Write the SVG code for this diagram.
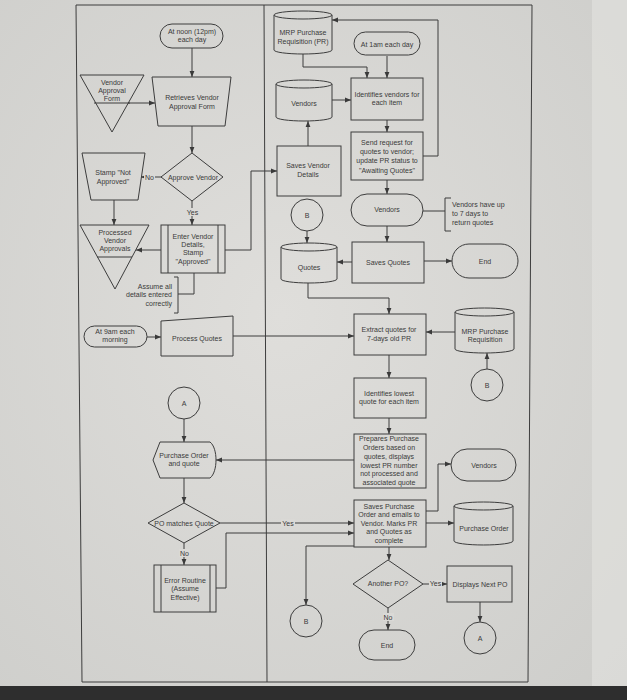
<svg xmlns="http://www.w3.org/2000/svg" width="627" height="700" viewBox="0 0 627 700">
<defs>
<radialGradient id="bg" cx="0.45" cy="0.45" r="0.8">
<stop offset="0" stop-color="#dfdedb"/>
<stop offset="1" stop-color="#cdcdca"/>
</radialGradient>
<marker id="ah" viewBox="0 0 10 10" refX="10" refY="5" markerWidth="6" markerHeight="6" markerUnits="userSpaceOnUse" orient="auto"><path d="M0,1 L10,5 L0,9 z" fill="#3a3a3a"/></marker>
</defs>
<style>
.n{fill:none;stroke:#3d3d3d;stroke-width:1}
.c{fill:none;stroke:#3d3d3d;stroke-width:1;marker-end:url(#ah)}
.l{fill:none;stroke:#3d3d3d;stroke-width:1}
.bk{fill:#dad9d6;stroke:none}
text{font-family:"Liberation Sans",Arial,sans-serif;font-size:7px;fill:#3a3a3a;text-anchor:middle}
.r{text-anchor:end}
.s{text-anchor:start}
</style>
<rect x="0" y="0" width="627" height="700" fill="url(#bg)"/>
<rect x="592" y="0" width="35" height="686" fill="#e2e2e0" opacity="0.6"/>
<rect x="0" y="686" width="627" height="14" fill="#2e2e2e"/>
<g id="frame">
<polygon points="76,5 532,5 528,682 82,682" class="n" stroke-width="1.2"/>
<line x1="264" y1="5" x2="267" y2="682" class="l" stroke-width="1.2"/>
</g>
<g id="connectors">
<path class="c" d="M192,48 V77"/>
<path class="c" d="M128,103 H155"/>
<path class="c" d="M192,126 V153"/>
<path class="c" d="M162,177 H141"/>
<path class="c" d="M114,200 V225"/>
<path class="c" d="M192,201 V225"/>
<path class="c" d="M161,250 H136"/>
<path class="c" d="M225,250 H251 V171 H277"/>
<path class="l" d="M194,273 V294 H178"/>
<path class="l" d="M174,277 H178 V313 H174"/>
<path class="c" d="M147,337 H161"/>
<path class="c" d="M233,336 H354"/>
<path class="c" d="M184,419 V442"/>
<path class="c" d="M354,460 H216"/>
<path class="c" d="M184,478 V503"/>
<path class="c" d="M220,523 H354"/>
<path class="c" d="M184,543 V565"/>
<path class="c" d="M216,588 H226 V533 H354"/>
<path class="c" d="M303,54 V67 H367 V78"/>
<path class="c" d="M387,56 V78"/>
<path class="c" d="M332,100 H351"/>
<path class="c" d="M308,146 V121"/>
<path class="c" d="M387,120 V132"/>
<path class="c" d="M423,156 H438 V20 H332"/>
<path class="c" d="M387,180 V194"/>
<path class="l" d="M423,211 H445"/>
<path class="l" d="M451,198 H445 V231 H451"/>
<path class="c" d="M387,226 V242"/>
<path class="c" d="M352,262 H337"/>
<path class="c" d="M424,261 H452"/>
<path class="c" d="M307,231 V243"/>
<path class="c" d="M308,283 V298 H389 V314"/>
<path class="c" d="M455,332 H426"/>
<path class="c" d="M487,369 V353"/>
<path class="c" d="M389,355 V378"/>
<path class="c" d="M389,418 V434"/>
<path class="c" d="M426,511 H438 V464 H451"/>
<path class="c" d="M426,523 H454"/>
<path class="c" d="M389,547 V560"/>
<path class="c" d="M354,546 H306 V605"/>
<path class="c" d="M423,584 H447"/>
<path class="c" d="M388,608 V630"/>
<path class="c" d="M480,602 V622"/>
<rect class="bk" x="144" y="173" width="11" height="8"/><text x="149.5" y="179.5">No</text>
<rect class="bk" x="186" y="208" width="13" height="8"/><text x="192.5" y="214.5">Yes</text>
<rect class="bk" x="281" y="519" width="14" height="8"/><text x="288" y="525.5">Yes</text>
<rect class="bk" x="179" y="549" width="11" height="8"/><text x="184.5" y="555.5">No</text>
<rect class="bk" x="429" y="580" width="13" height="8"/><text x="435.5" y="586">Yes</text>
<rect class="bk" x="383" y="613" width="11" height="8"/><text x="388" y="619.5">No</text>
</g>
<g id="n-noon"><rect class="n" x="160" y="24" width="63" height="24" rx="12"/><text x="192" y="33.5">At noon (12pm)</text><text x="192" y="41.5">each day</text></g>
<g id="n-retrieve"><polygon class="n" points="152,77 231,77 225,126 158,126"/><text x="192" y="99.5">Retrieves Vendor</text><text x="192" y="108.5">Approval Form</text></g>
<g id="n-vaf"><polygon class="n" points="80,75 144,75 112,132"/><line class="l" x1="94" y1="103" x2="130" y2="103"/><text x="112" y="84.5">Vendor</text><text x="112" y="92.5">Approval</text><text x="112" y="100.5">Form</text></g>
<g id="n-approve"><polygon class="n" points="192,153 223,177 192,201 161,177"/><text x="193" y="179.5">Approve Vendor</text></g>
<g id="n-stamp"><polygon class="n" points="82,153 145,153 138,200 91,200"/><text x="113" y="174.5">Stamp "Not</text><text x="113" y="183.5">Approved"</text></g>
<g id="n-processed"><polygon class="n" points="80,225 149,225 115,289"/><line class="l" x1="97" y1="257" x2="132" y2="257"/><text x="115" y="234.5">Processed</text><text x="115" y="242.5">Vendor</text><text x="115" y="250.5">Approvals</text></g>
<g id="n-enter"><rect class="n" x="161" y="225" width="64" height="48"/><line class="l" x1="168" y1="225" x2="168" y2="273"/><line class="l" x1="218" y1="225" x2="218" y2="273"/><text x="193" y="238.5">Enter Vendor</text><text x="193" y="246.5">Details,</text><text x="193" y="255">Stamp</text><text x="193" y="263.5">"Approved"</text></g>
<g id="n-assume"><text class="r" x="172" y="288.5">Assume all</text><text class="r" x="172" y="296.5">details entered</text><text class="r" x="172" y="305.5">correctly</text></g>
<g id="n-9am"><rect class="n" x="84" y="326" width="63" height="21" rx="10.5"/><text x="115" y="333.5">At 9am each</text><text x="115" y="341.5">morning</text></g>
<g id="n-process"><polygon class="n" points="161,321 233,316 233,356 161,356"/><text x="197" y="340.5">Process Quotes</text></g>
<g id="n-a1"><circle class="n" cx="184" cy="403" r="16"/><text x="184" y="405.5">A</text></g>
<g id="n-po"><path class="n" d="M153,460 L160,442 H210 C218,448 218,472 210,478 H160 Z"/><text x="184" y="457.5">Purchase Order</text><text x="184" y="466">and quote</text></g>
<g id="n-pomatch"><polygon class="n" points="184,503 220,523 184,543 148,523"/><text x="184" y="525.5">PO matches Quote</text></g>
<g id="n-error"><rect class="n" x="154" y="565" width="62" height="47"/><line class="l" x1="161" y1="565" x2="161" y2="612"/><line class="l" x1="210" y1="565" x2="210" y2="612"/><text x="185" y="582.5">Error Routine</text><text x="185" y="590.5">(Assume</text><text x="185" y="599.5">Effective)</text></g>
<g id="n-mrppr"><path class="n" d="M274,15 A29,4 0 0 1 332,15 V50 A29,4 0 0 1 274,50 Z M274,15 A29,4 0 0 0 332,15"/><text x="303" y="34.5">MRP  Purchase</text><text x="303" y="43.5">Requisition (PR)</text></g>
<g id="n-1am"><rect class="n" x="354" y="32" width="66" height="23" rx="11.5"/><text x="387" y="46.5">At 1am each day</text></g>
<g id="n-idvend"><rect class="n" x="351" y="78" width="72" height="42"/><text x="387" y="96.5">Identifies vendors for</text><text x="387" y="104.5">each item</text></g>
<g id="n-vendors1"><path class="n" d="M276,84 A28,4 0 0 1 332,84 V117 A28,4 0 0 1 276,117 Z M276,84 A28,4 0 0 0 332,84"/><text x="304" y="105.5">Vendors</text></g>
<g id="n-savevd"><rect class="n" x="277" y="146" width="64" height="50"/><text x="308" y="167.5">Saves Vendor</text><text x="308" y="176.5">Details</text></g>
<g id="n-send"><rect class="n" x="351" y="132" width="72" height="48"/><text x="387" y="144.5">Send request for</text><text x="387" y="153.5">quotes to vendor;</text><text x="387" y="163">update PR status to</text><text x="387" y="172.5">"Awaiting Quotes"</text></g>
<g id="n-vendors2"><rect class="n" x="351" y="194" width="72" height="32" rx="16"/><text x="387" y="211.5">Vendors</text></g>
<g id="n-note7"><text class="s" x="452" y="206.5">Vendors have up</text><text class="s" x="452" y="215.5">to 7 days to</text><text class="s" x="452" y="224.5">return quotes</text></g>
<g id="n-savequotes"><rect class="n" x="352" y="242" width="72" height="41"/><text x="388" y="264.5">Saves Quotes</text></g>
<g id="n-end1"><rect class="n" x="452" y="244" width="66" height="34" rx="17"/><text x="485" y="263.5">End</text></g>
<g id="n-b1"><circle class="n" cx="307" cy="215" r="16"/><text x="307" y="217.5">B</text></g>
<g id="n-quotes"><path class="n" d="M281,247 A28,4 0 0 1 337,247 V279 A28,4 0 0 1 281,279 Z M281,247 A28,4 0 0 0 337,247"/><text x="309" y="269.5">Quotes</text></g>
<g id="n-extract"><rect class="n" x="354" y="314" width="72" height="41"/><text x="389" y="332">Extract quotes for</text><text x="389" y="341">7-days old PR</text></g>
<g id="n-mrp2"><path class="n" d="M455,312 A29.5,4 0 0 1 514,312 V349 A29.5,4 0 0 1 455,349 Z M455,312 A29.5,4 0 0 0 514,312"/><text x="485" y="333.5">MRP  Purchase</text><text x="485" y="341.5">Requisition</text></g>
<g id="n-b2"><circle class="n" cx="487" cy="385" r="16"/><text x="487" y="387.5">B</text></g>
<g id="n-lowest"><rect class="n" x="354" y="378" width="72" height="40"/><text x="389" y="395.5">Identifies lowest</text><text x="389" y="404">quote for each item</text></g>
<g id="n-prepares"><rect class="n" x="354" y="434" width="72" height="54"/><text x="389" y="440.5">Prepares Purchase</text><text x="389" y="449.5">Orders based on</text><text x="389" y="458.5">quotes, displays</text><text x="389" y="467.5">lowest PR number</text><text x="389" y="475.5">not processed and</text><text x="389" y="484.5">associated quote</text></g>
<g id="n-vendors3"><rect class="n" x="451" y="449" width="65" height="32" rx="16"/><text x="484" y="467.5">Vendors</text></g>
<g id="n-savepo"><rect class="n" x="354" y="500" width="72" height="47"/><text x="389" y="508.5">Saves Purchase</text><text x="389" y="516.5">Order and emails to</text><text x="389" y="525.5">Vendor. Marks PR</text><text x="389" y="533.5">and Quotes as</text><text x="389" y="542.5">complete</text></g>
<g id="n-pocyl"><path class="n" d="M454,506 A29.5,4 0 0 1 513,506 V541 A29.5,4 0 0 1 454,541 Z M454,506 A29.5,4 0 0 0 513,506"/><text x="484" y="530.5">Purchase Order</text></g>
<g id="n-another"><polygon class="n" points="388,560 423,584 388,608 353,584"/><text x="388" y="586">Another PO?</text></g>
<g id="n-displays"><rect class="n" x="447" y="566" width="65" height="36"/><text x="480" y="586.5">Displays Next PO</text></g>
<g id="n-b3"><circle class="n" cx="306" cy="621" r="16"/><text x="306" y="623.5">B</text></g>
<g id="n-end2"><rect class="n" x="359" y="630" width="56" height="30" rx="15"/><text x="387" y="647.5">End</text></g>
<g id="n-a2"><circle class="n" cx="480" cy="638" r="16"/><text x="480" y="640.5">A</text></g>
</svg>
